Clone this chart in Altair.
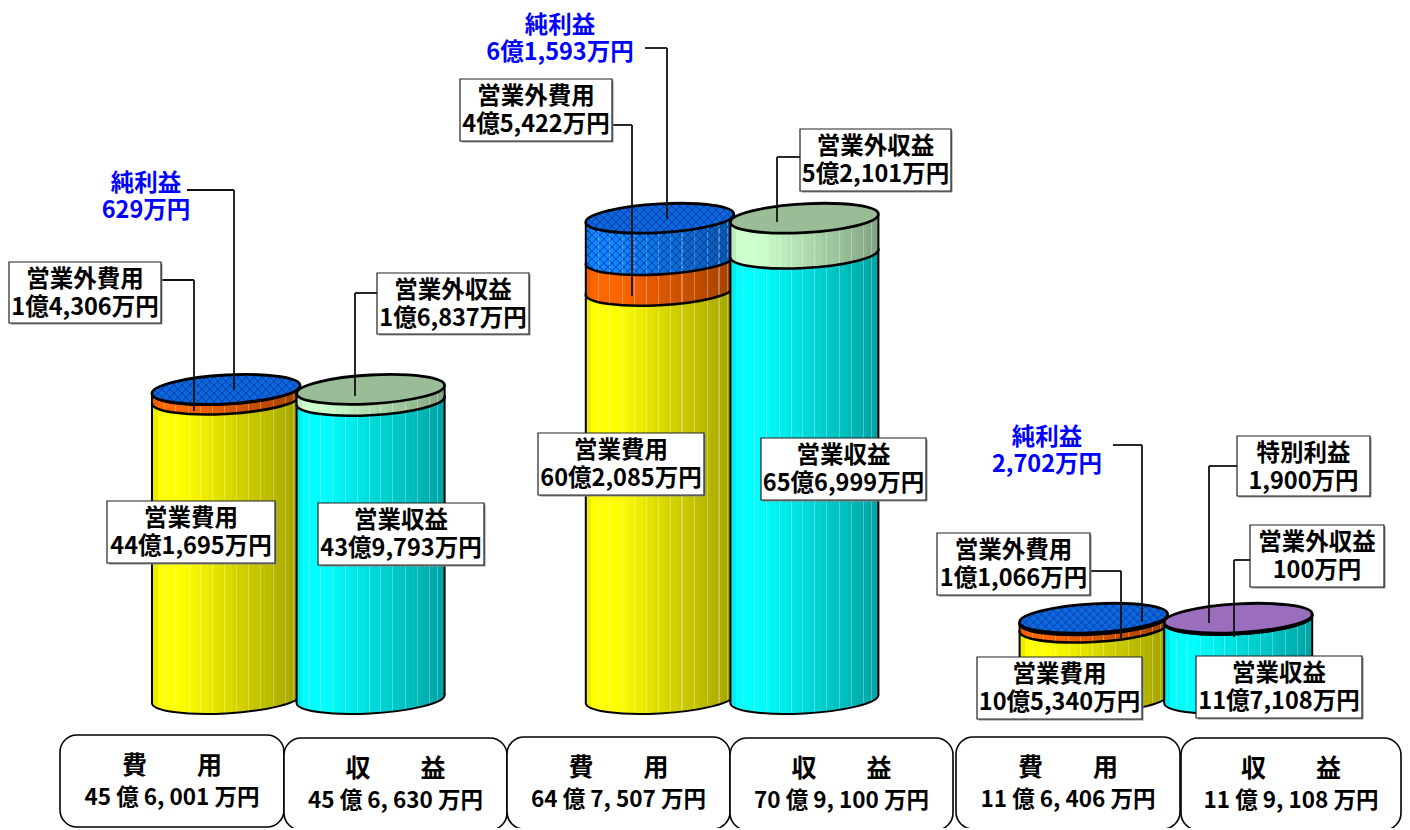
import math
import altair as alt
import pandas as pd

# ---------- data (values in 万円) ----------
slots = [0, 1, 3, 4, 6, 7]
segment_values = [
    [441695, 14306, 629],
    [439793, 16837],
    [602085, 45422, 61593],
    [656999, 52101],
    [105340, 11066, 2702],
    [117108, 100, 1900],
]
segment_kinds = [
    ["yellow", "orange", "blue"],
    ["cyan", "green"],
    ["yellow", "orange", "blue"],
    ["cyan", "green"],
    ["yellow", "orange", "blue"],
    ["cyan", "green", "purple"],
]
side_colors = {"yellow": (255, 255, 0), "cyan": (0, 255, 255), "orange": (255, 102, 0),
               "blue": (10, 140, 255), "green": (204, 255, 204), "purple": (170, 120, 205)}
top_colors = {"blue": "#0a6ad8", "green": "#9abd97", "purple": "#9b6dbd"}

box_titles = ["費　　用", "収　　益", "費　　用", "収　　益", "費　　用", "収　　益"]
box_amounts = ["45 億 6, 001 万円", "45 億 6, 630 万円", "64 億 7, 507 万円",
               "70 億 9, 100 万円", "11 億 6, 406 万円", "11 億 9, 108 万円"]
box_x0 = [60, 284, 507, 730, 956, 1181]
box_x1 = [284, 507, 730, 953, 1180, 1401]
box_y0 = [735, 738, 737, 738, 737, 738]

call_line1 = ["営業外費用", "営業外収益", "営業費用", "営業収益", "営業外費用", "営業外収益",
              "営業費用", "営業収益", "営業外費用", "特別利益", "営業外収益", "営業費用", "営業収益"]
call_line2 = ["1億4,306万円", "1億6,837万円", "44億1,695万円", "43億9,793万円", "4億5,422万円", "5億2,101万円",
              "60億2,085万円", "65億6,999万円", "1億1,066万円", "1,900万円", "100万円", "10億5,340万円", "11億7,108万円"]
call_x0 = [9, 377, 107, 318, 460, 800, 538, 761, 937, 1237, 1250, 977, 1196]
call_x1 = [161, 529, 275, 484, 612, 951, 704, 926, 1090, 1370, 1384, 1142, 1362]
call_y0 = [262, 273, 501, 503, 79, 129, 433, 438, 533, 436, 525, 657, 656]
call_y1 = [323, 334, 563, 565, 141, 191, 495, 500, 595, 496, 587, 719, 718]

profit_line1 = ["純利益", "純利益", "純利益"]
profit_line2 = ["629万円", "6億1,593万円", "2,702万円"]
profit_x = [146, 560, 1047]
profit_y = [184, 26, 438]

leaders = [
    [(161, 280), (194, 280), (194, 411)],
    [(187, 190), (234, 190), (234, 390)],
    [(377, 293), (355, 293), (355, 396)],
    [(645, 48), (667, 48), (667, 219)],
    [(612, 125), (632, 125), (632, 296)],
    [(800, 157), (777, 157), (777, 222)],
    [(1113, 445), (1142, 445), (1142, 622)],
    [(1090, 571), (1121, 571), (1121, 638)],
    [(1237, 466), (1209, 466), (1209, 623)],
    [(1250, 560), (1234, 560), (1234, 637)],
]

# ---------- geometry / style ----------
W, H = 1394, 820
PX_SLOT = 144.6
X0 = 226 - 8             # plot px of slot 0
A = 74.0                 # cylinder half width, px
B = 14.4                 # ellipse half height, px
S = 4.0 / 74.0           # tilt of the ellipses (right end higher)
Y0 = 699 - 8             # plot px of the base
PX_PER = 6.78 / 10000    # px per 万円
x_scale = alt.Scale(domain=[-X0 / PX_SLOT, (W - X0) / PX_SLOT], range=[0, W], nice=False, zero=False)
y_scale = alt.Scale(domain=[(Y0 - H) / PX_PER, Y0 / PX_PER], range=[H, 0], nice=False, zero=False)
half = A / PX_SLOT
tilt_val = 4.0 / PX_PER
SIZE = (2 * A) ** 2
FONT = "Noto Sans CJK JP"


def ellipse_path():
    k = 0.5523
    b = B / A
    pts = [(-1, 0), (-1, -k * b), (-k, -b), (0, -b), (k, -b), (1, -k * b), (1, 0),
           (1, k * b), (k, b), (0, b), (-k, b), (-1, k * b), (-1, 0)]
    p = [(x, y - S * x) for x, y in pts]
    f = lambda q: f"{q[0]:.4f} {q[1]:.4f}"
    d = "M" + f(p[0])
    for i in range(1, 13, 3):
        d += " C" + f(p[i]) + " " + f(p[i + 1]) + " " + f(p[i + 2])
    return d + " Z"


def mesh_path(inside, ymin, ymax, pitch=8.0):
    """Diagonal lattice, kept only where inside(x, y) holds; px relative to the symbol centre."""
    out = []
    n = int((A + max(abs(ymin), abs(ymax))) / pitch) + 2
    for sign in (1, -1):
        for i in range(-n, n + 1):
            c = i * pitch
            run = None
            xx = -A
            while xx <= A + 0.5:
                yy = sign * xx + c
                if inside(xx, yy):
                    if run is None:
                        run = (xx, yy)
                    last = (xx, yy)
                elif run is not None:
                    out.append((run, last))
                    run = None
                xx += 0.5
            if run is not None:
                out.append((run, last))
    return " ".join(f"M{a[0]/A:.4f} {a[1]/A:.4f} L{b[0]/A:.4f} {b[1]/A:.4f}" for a, b in out if a != b)


def in_ellipse(x, y):
    yy = y + S * x
    return (x / A) ** 2 + (yy / B) ** 2 < 0.97


def side_mesh(h):
    def inside(x, y):
        if abs(x) > A - 1:
            return False
        arc = B * math.sqrt(max(0, 1 - (x / A) ** 2))
        yy = y + S * x
        return -h / 2 < yy < h / 2 + arc - 1
    return mesh_path(inside, -h / 2 - 6, h / 2 + B + 6)


def gradient(rgb):
    stripes = [0.085, 0.16, 0.245, 0.33, 0.41, 0.49, 0.57, 0.65, 0.735, 0.82, 0.90, 0.955]
    n = 26
    result = []
    for i in range(n):
        t0, t1 = i / n, (i + 1) / n
        t = (t0 + t1) / 2
        if t < 0.03:
            f = 0.93
        elif t < 0.2:
            f = 1.0
        else:
            f = 1.0 - 0.36 * (t - 0.2) / 0.8
        col = "#%02x%02x%02x" % tuple(int(c * f) for c in rgb)
        result.append(alt.GradientStop(offset=round(t0, 4), color=col))
        result.append(alt.GradientStop(offset=round(t1, 4), color=col))
    for st in stripes:
        f = 1.0 if st < 0.2 else 1.0 - 0.36 * (st - 0.2) / 0.8
        base = [c * f for c in rgb]
        col = "#%02x%02x%02x" % tuple(int(c + (255 - c) * 0.3) for c in base)
        plain = "#%02x%02x%02x" % tuple(int(c) for c in base)
        result.append(alt.GradientStop(offset=round(st - 0.0035, 4), color=plain))
        result.append(alt.GradientStop(offset=round(st - 0.0034, 4), color=col))
        result.append(alt.GradientStop(offset=round(st + 0.0034, 4), color=col))
        result.append(alt.GradientStop(offset=round(st + 0.0035, 4), color=plain))
    result.sort(key=lambda s: s.offset)
    return alt.Gradient(gradient="linear", stops=result, x1=0, x2=1, y1=0, y2=0)


ELLIPSE = ellipse_path()
TOP_MESH = mesh_path(in_ellipse, -B - 6, B + 6)
MESH_COLOR = "#1034b8"

X = lambda f: alt.X(f, type="quantitative", scale=x_scale, axis=None)
Y = lambda f: alt.Y(f, type="quantitative", scale=y_scale, axis=None)
PX = lambda f: alt.X(f, type="quantitative", scale=None, axis=None)
PY = lambda f: alt.Y(f, type="quantitative", scale=None, axis=None)

layers = []


def symbol_layer(slot, val, shape, **kw):
    return alt.Chart(pd.DataFrame({"slot": [slot], "v": [val]})).mark_point(
        shape=shape, size=SIZE, opacity=1, **kw).encode(x=X("slot"), y=Y("v"))


for slot, vals, kinds in zip(slots, segment_values, segment_kinds):
    base = 0
    total = sum(vals)
    for v, kind in zip(vals, kinds):
        top = base + v
        grad = gradient(side_colors[kind])
        layers.append(symbol_layer(slot, base, ELLIPSE, filled=True, fill=grad,
                                   stroke="black", strokeWidth=2.6 if base else 2))
        area = pd.DataFrame({"x": [slot - half, slot + half],
                             "y": [top - tilt_val, top + tilt_val],
                             "y2": [base - tilt_val, base + tilt_val]})
        layers.append(alt.Chart(area).mark_area(fill=grad, opacity=1, line=False).encode(
            x=X("x"), y=Y("y"), y2=alt.Y2("y2")))
        if kind == "blue" and v * PX_PER > 8:
            h = v * PX_PER
            layers.append(symbol_layer(slot, base + v / 2, side_mesh(h), filled=False,
                                       stroke=MESH_COLOR, strokeWidth=1.0))
        base = top
    for sgn in (-1, 1):
        side = pd.DataFrame({"x": [slot + sgn * half], "y": [total + sgn * tilt_val], "y2": [sgn * tilt_val]})
        layers.append(alt.Chart(side).mark_rule(color="black", strokeWidth=2).encode(
            x=X("x"), y=Y("y"), y2=alt.Y2("y2")))
    top_kind = kinds[-1]
    layers.append(symbol_layer(slot, total, ELLIPSE, filled=True, fill=top_colors[top_kind], strokeWidth=0))
    if top_kind == "blue":
        layers.append(symbol_layer(slot, total, TOP_MESH, filled=False, stroke=MESH_COLOR, strokeWidth=1.0))
    layers.append(symbol_layer(slot, total, ELLIPSE, filled=False, stroke="black", strokeWidth=2.8))

# leaders
seg_rows = []
for path in leaders:
    for (x0, y0), (x1, y1) in zip(path[:-1], path[1:]):
        seg_rows.append({"x": x0 - 8, "y": y0 - 8, "x2": x1 - 8, "y2": y1 - 8})
layers.append(alt.Chart(pd.DataFrame(seg_rows)).mark_rule(color="#111111", strokeWidth=1.8).encode(
    x=PX("x"), y=PY("y"), x2=alt.X2("x2"), y2=alt.Y2("y2")))

# callout boxes
call = pd.DataFrame({"a": call_line1, "b": call_line2,
                     "x0": [v - 8 for v in call_x0], "x1": [v - 8 for v in call_x1],
                     "y0": [v - 8 for v in call_y0], "y1": [v - 8 for v in call_y1]})
call["cx"] = (call.x0 + call.x1) / 2
call["ya"] = call.y0 + 18
call["yb"] = call.y0 + 46
shadow = call.assign(x0=call.x0 + 1.5, x1=call.x1 + 1.5, y0=call.y0 + 1.5, y1=call.y1 + 1.5)
layers.append(alt.Chart(shadow).mark_rect(fill="#909090", opacity=1).encode(
    x=PX("x0"), x2=alt.X2("x1"), y=PY("y0"), y2=alt.Y2("y1")))
layers.append(alt.Chart(call).mark_rect(fill="white", stroke="#222222", strokeWidth=1.2, opacity=1).encode(
    x=PX("x0"), x2=alt.X2("x1"), y=PY("y0"), y2=alt.Y2("y1")))
for field, pos in (("a", "ya"), ("b", "yb")):
    layers.append(alt.Chart(call).mark_text(font=FONT, fontSize=23.5, fontWeight="bold", color="black",
                                            align="center", baseline="middle").encode(
        x=PX("cx"), y=PY(pos), text=alt.Text(field, type="nominal")))

# net profit labels
prof = pd.DataFrame({"a": profit_line1, "b": profit_line2,
                     "cx": [v - 8 for v in profit_x], "ya": [v - 8 for v in profit_y]})
prof["yb"] = prof.ya + 27
for field, pos in (("a", "ya"), ("b", "yb")):
    layers.append(alt.Chart(prof).mark_text(font=FONT, fontSize=23.5, fontWeight="bold", color="#0000ff",
                                            align="center", baseline="middle").encode(
        x=PX("cx"), y=PY(pos), text=alt.Text(field, type="nominal")))

# bottom boxes
boxes = pd.DataFrame({"t": box_titles, "a": box_amounts,
                      "x0": [v - 8 for v in box_x0], "x1": [v - 8 for v in box_x1],
                      "y0": [v - 8 for v in box_y0]})
boxes["y1"] = boxes.y0 + 92
boxes["cx"] = (boxes.x0 + boxes.x1) / 2
boxes["yt"] = boxes.y0 + 31
boxes["ya"] = boxes.y0 + 63
layers.append(alt.Chart(boxes).mark_rect(fill="white", stroke="black", strokeWidth=1.6, cornerRadius=17,
                                         opacity=1).encode(
    x=PX("x0"), x2=alt.X2("x1"), y=PY("y0"), y2=alt.Y2("y1")))
layers.append(alt.Chart(boxes).mark_text(font=FONT, fontSize=25, fontWeight="bold", color="black",
                                         align="center", baseline="middle").encode(
    x=PX("cx"), y=PY("yt"), text=alt.Text("t", type="nominal")))
layers.append(alt.Chart(boxes).mark_text(font=FONT, fontSize=22.5, fontWeight="bold", color="black",
                                         align="center", baseline="middle").encode(
    x=PX("cx"), y=PY("ya"), text=alt.Text("a", type="nominal")))

chart = alt.layer(*layers).properties(
    width=W, height=H, padding=0, autosize=alt.AutoSizeParams(type="none"), background="white"
).configure_view(stroke=None)

chart.save("out.html", embed_options={"renderer": "svg", "actions": False})
